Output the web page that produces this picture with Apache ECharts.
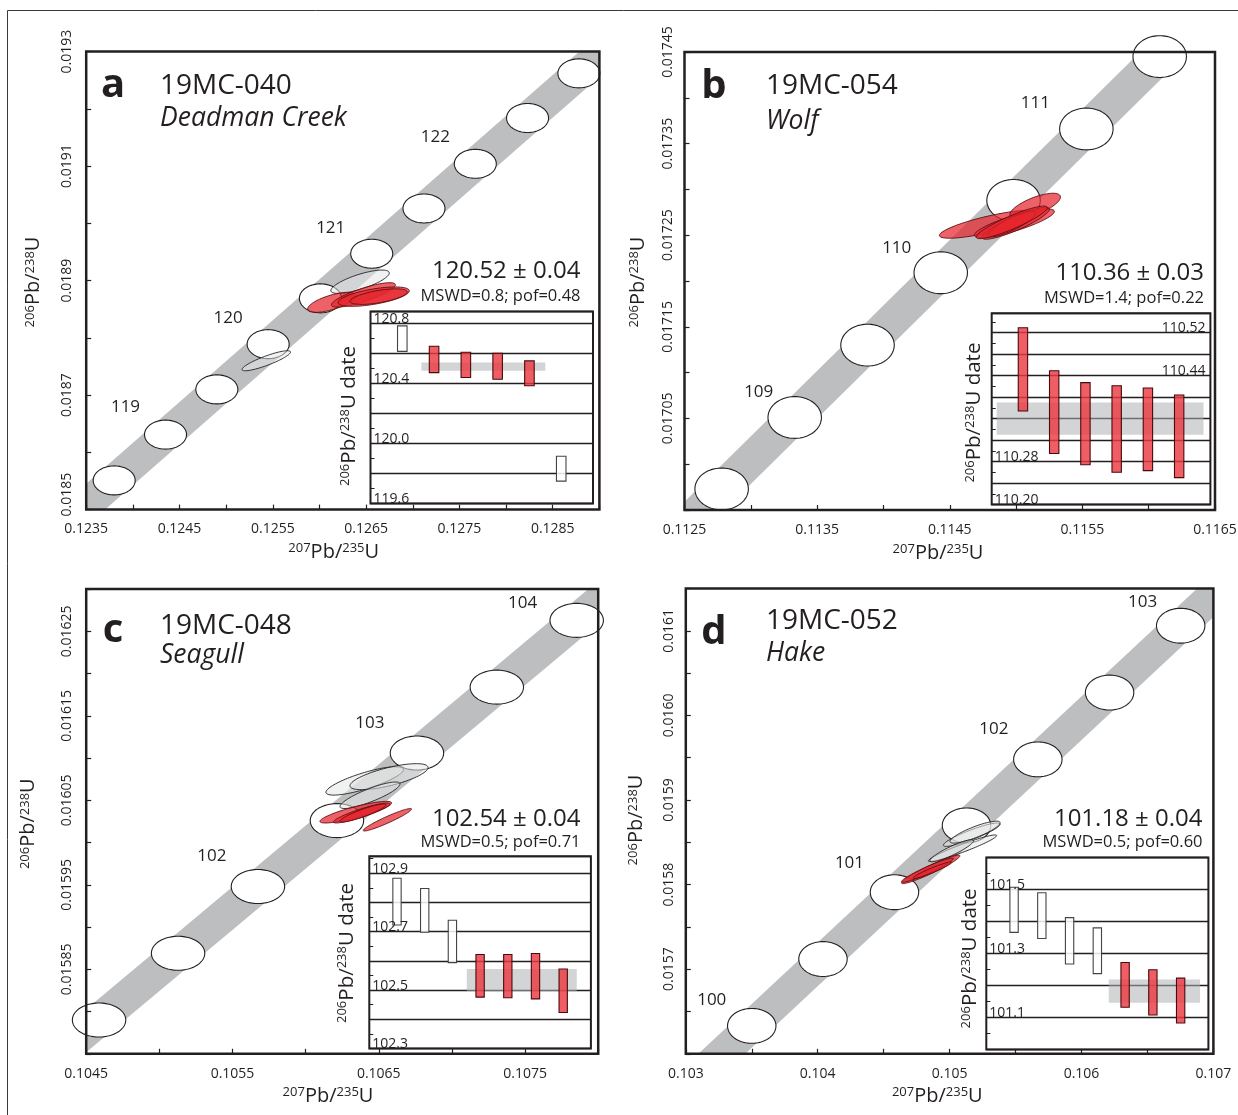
<!DOCTYPE html>
<html>
<head>
<meta charset="utf-8">
<title>U-Pb concordia diagrams</title>
<script src="https://cdn.jsdelivr.net/npm/echarts@6.0.0/dist/echarts.min.js"></script>
<style>
html,body{margin:0;padding:0;background:#fff;}
#chart{width:1238px;height:1115px;}
</style>
</head>
<body>
<div id="chart"></div>
<script>
// ===================== DATA =====================
// ---- Panel a : 19MC-040 Deadman Creek ----
const agesA = [118.5, 119, 119.5, 120, 120.5, 121, 121.5, 122, 122.5, 123];
const concXA = [0.12380, 0.12435, 0.12490, 0.12545, 0.12601, 0.12656, 0.12712, 0.12767, 0.12823, 0.12878];
const concYA = [0.018551, 0.018631, 0.018710, 0.018789, 0.018869, 0.018947, 0.019026, 0.019104, 0.019184, 0.019262];
const markerErrA = [0.000225, 0.0000253];
const labelledAgesA = [119, 120, 121, 122];
// [x, y, sx, sy, rho]
const whiteEllA = [
  [0.126435, 0.018898, 0.000313, 0.0000204, 0.75],
  [0.125430, 0.018760, 0.000260, 0.0000175, 0.87]
];
const redEllA = [
  [0.126132, 0.018862, 0.000259, 0.0000175, 0.66],
  [0.126471, 0.018875, 0.000343, 0.0000213, 0.82],
  [0.126581, 0.018872, 0.000382, 0.0000169, 0.60],
  [0.126634, 0.018872, 0.000307, 0.0000136, 0.60]
];
const datesLoA = [120.615, 120.473, 120.440, 120.429, 120.385, 119.749];
const datesHiA = [120.785, 120.649, 120.609, 120.602, 120.551, 119.915];
const usedA = [0, 1, 1, 1, 1, 0];
const meanBandA = [120.485, 120.540];
const meanSpanA = [1.6, 5.5];
const insetTicksA = [120.8, 120.4, 120.0, 119.6];

// ---- Panel b : 19MC-054 Wolf ----
const agesB = [108.5, 109, 109.5, 110, 110.5, 111, 111.5];
const concXB = [0.11278, 0.113331, 0.113880, 0.114432, 0.114981, 0.115530, 0.116083];
const concYB = [0.016973, 0.017051, 0.017130, 0.017209, 0.017288, 0.017366, 0.017445];
const markerErrB = [0.0002015, 0.0000228];
const labelledAgesB = [109, 110, 111];
const whiteEllB = [];
const redEllB = [
  [0.114798, 0.017262, 0.000376, 0.0000153, 0.80],
  [0.115144, 0.017282, 0.000191, 0.0000138, 0.70],
  [0.114987, 0.017263, 0.000302, 0.0000156, 0.83],
  [0.114997, 0.017263, 0.000254, 0.0000174, 0.88],
  [0.114967, 0.017262, 0.000179, 0.0000138, 0.85],
  [0.114968, 0.017264, 0.000268, 0.0000178, 0.90]
];
const datesLoB = [110.374, 110.295, 110.274, 110.260, 110.263, 110.250];
const datesHiB = [110.529, 110.449, 110.427, 110.421, 110.417, 110.404];
const usedB = [1, 1, 1, 1, 1, 1];
const meanBandB = [110.33, 110.39];
const meanSpanB = [0.16, 6.78];
const insetTicksB = [110.52, 110.44, 110.28, 110.20];

// ---- Panel c : 19MC-048 Seagull ----
const agesC = [101, 101.5, 102, 102.5, 103, 103.5, 104];
const concXC = [0.104588, 0.105128, 0.105674, 0.106214, 0.106761, 0.107307, 0.107853];
const concYC = [0.015790, 0.015869, 0.015948, 0.016026, 0.016106, 0.016184, 0.016263];
const markerErrC = [0.0001825, 0.0000201];
const labelledAgesC = [102, 103, 104];
const whiteEllC = [
  [0.106404, 0.016073, 0.000265, 0.0000168, 0.80],
  [0.106570, 0.016078, 0.000267, 0.0000154, 0.70],
  [0.106440, 0.016056, 0.000205, 0.0000157, 0.85]
];
const redEllC = [
  [0.106343, 0.016036, 0.000245, 0.0000128, 0.85],
  [0.106383, 0.016035, 0.000193, 0.0000118, 0.90],
  [0.106392, 0.016035, 0.000157, 0.0000107, 0.90],
  [0.106559, 0.016027, 0.000165, 0.0000133, 0.95]
];
const datesLoC = [102.723, 102.698, 102.594, 102.476, 102.474, 102.470, 102.423];
const datesHiC = [102.883, 102.848, 102.739, 102.622, 102.622, 102.625, 102.572];
const usedC = [0, 0, 0, 1, 1, 1, 1];
const meanBandC = [102.497, 102.572];
const meanSpanC = [3.52, 7.49];
const insetTicksC = [102.9, 102.7, 102.5, 102.3];

// ---- Panel d : 19MC-052 Hake ----
const agesD = [100, 100.5, 101, 101.5, 102, 102.5, 103];
const concXD = [0.103500, 0.104040, 0.104582, 0.105128, 0.105669, 0.106213, 0.106752];
const concYD = [0.015633, 0.015712, 0.015791, 0.015870, 0.015948, 0.016027, 0.016106];
const markerErrD = [0.0001835, 0.0000206];
const labelledAgesD = [100, 101, 102, 103];
const whiteEllD = [
  [0.105168, 0.015859, 0.000215, 0.0000138, 0.90],
  [0.105193, 0.015862, 0.000190, 0.0000130, 0.85],
  [0.105098, 0.015843, 0.000259, 0.0000157, 0.95],
  [0.105016, 0.015840, 0.000165, 0.0000130, 0.90]
];
const redEllD = [
  [0.104857, 0.015818, 0.000221, 0.0000168, 0.95],
  [0.104832, 0.015817, 0.000196, 0.0000142, 0.95],
  [0.104870, 0.015817, 0.000146, 0.0000098, 0.95]
];
const datesLoD = [101.366, 101.347, 101.267, 101.237, 101.132, 101.108, 101.083];
const datesHiD = [101.507, 101.490, 101.412, 101.380, 101.272, 101.249, 101.223];
const usedD = [0, 0, 0, 0, 1, 1, 1];
const meanBandD = [101.146, 101.219];
const meanSpanD = [4.41, 7.70];
const insetTicksD = [101.5, 101.3, 101.1];

// ===================== LAYOUT / STYLE =====================
const FONT = "'Open Sans', 'Noto Sans', sans-serif";
const TXT = '#231f20';

const panels = [
  { letter: 'a', sample: '19MC-040', name: 'Deadman Creek', stat: '120.52 \u00b1 0.04', mswd: 'MSWD=0.8; pof=0.48',
    grid: [86.2, 51.6, 513.2, 458], xr: [0.1235, 0.1290], yr: [0.0185, 0.0193], xi: 0.0005, yi: 0.0001,
    xFmt: v => Math.round(v * 1e4) % 10 === 5 ? v.toFixed(4) : '',
    yFmt: v => { const k = Math.round(v * 1e4); if (k === 185) return '{lo|' + v.toFixed(4) + '}'; return k % 2 === 1 ? v.toFixed(4) : ''; },
    xMargin: 12, yMargin: 12, bandW: 32,
    ages: agesA, cx: concXA, cy: concYA, merr: markerErrA, labelled: labelledAgesA,
    labelOff: [[-40, -27], [-40, -26], [-41, -26], [-40, -27]],
    white: whiteEllA, red: redEllA,
    lettPos: [113, 86], samplePos: [160, 86.5], namePos: [160, 118], statPos: [580.5, 271.5], mswdPos: [580.5, 296],
    xTitle: [333.7, 554], yTitle: [35.6, 282], iTitle: [351.3, 416],
    inset: { box: [370.5, 311.6, 222.5, 191.9], yr: [119.6, 120.88], xr: [0, 7], step: 0.2, dec: 1,
      lo: datesLoA, hi: datesHiA, used: usedA, band: meanBandA, span: meanSpanA, ticks: insetTicksA, right: [] } },
  { letter: 'b', sample: '19MC-054', name: 'Wolf', stat: '110.36 \u00b1 0.03', mswd: 'MSWD=1.4; pof=0.22',
    grid: [684.5, 52, 530.5, 458], xr: [0.1125, 0.1165], yr: [0.01695, 0.01745], xi: 0.0005, yi: 0.00005,
    xFmt: v => Math.round(v * 1e4) % 10 === 5 ? v.toFixed(4) : '',
    yFmt: v => { const k = Math.round(v * 1e5); return (k % 10 === 5 && k !== 1695) ? v.toFixed(5) : ''; },
    xMargin: 13, yMargin: 9, bandW: 34,
    ages: agesB, cx: concXB, cy: concYB, merr: markerErrB, labelled: labelledAgesB,
    labelOff: [[-36, -25], [-44, -25], [-51, -26]],
    white: whiteEllB, red: redEllB,
    lettPos: [714, 87], samplePos: [766, 86.5], namePos: [766, 121], statPos: [1204, 273.3], mswdPos: [1204, 298.5],
    xTitle: [938, 555], yTitle: [639.8, 282], iTitle: [976, 412.6],
    inset: { box: [991.7, 313.3, 218.7, 191.2], yr: [110.2, 110.556], xr: [0, 7], step: 0.04, dec: 2,
      lo: datesLoB, hi: datesHiB, used: usedB, band: meanBandB, span: meanSpanB, ticks: insetTicksB, right: [110.52, 110.44] } },
  { letter: 'c', sample: '19MC-048', name: 'Seagull', stat: '102.54 \u00b1 0.04', mswd: 'MSWD=0.5; pof=0.71',
    grid: [86.2, 589.1, 512, 464.7], xr: [0.1045, 0.1080], yr: [0.01575, 0.0163], xi: 0.0005, yi: 0.00005,
    xFmt: v => Math.round(v * 1e4) % 10 === 5 ? v.toFixed(4) : '',
    yFmt: v => { const k = Math.round(v * 1e5); return (k % 10 === 5 && k !== 1575) ? v.toFixed(5) : ''; },
    xMargin: 13, yMargin: 12, bandW: 33,
    ages: agesC, cx: concXC, cy: concYC, merr: markerErrC, labelled: labelledAgesC,
    labelOff: [[-46, -30], [-47, -30], [-54, -17]],
    white: whiteEllC, red: redEllC,
    lettPos: [113, 631], samplePos: [160, 626.2], namePos: [160, 655], statPos: [580.5, 818.8], mswdPos: [580.5, 842.5],
    xTitle: [328, 1098], yTitle: [30.6, 823.7], iTitle: [348.5, 953],
    inset: { box: [369.3, 856.3, 221.6, 192.2], yr: [102.3, 102.958], xr: [0, 8], step: 0.1, dec: 1,
      lo: datesLoC, hi: datesHiC, used: usedC, band: meanBandC, span: meanSpanC, ticks: insetTicksC, right: [] } },
  { letter: 'd', sample: '19MC-052', name: 'Hake', stat: '101.18 \u00b1 0.04', mswd: 'MSWD=0.5; pof=0.60',
    grid: [685.8, 588.5, 527.6, 465.3], xr: [0.103, 0.107], yr: [0.0156, 0.01615], xi: 0.0005, yi: 0.00005,
    xFmt: v => Math.round(v * 1e4) % 10 === 0 ? v.toFixed(3) : '',
    yFmt: v => { const k = Math.round(v * 1e5); return (k % 10 === 0 && k !== 1560) ? v.toFixed(4) : ''; },
    xMargin: 13, yMargin: 10, bandW: 32,
    ages: agesD, cx: concXD, cy: concYD, merr: markerErrD, labelled: labelledAgesD,
    labelOff: [[-40, -26], [-45, -29], [-44, -30], [-38, -24]],
    white: whiteEllD, red: redEllD,
    lettPos: [714, 632.5], samplePos: [766, 621], namePos: [766, 653.3], statPos: [1202.5, 818.8], mswdPos: [1202.5, 842.5],
    xTitle: [937.3, 1098], yTitle: [638.7, 820], iTitle: [972, 958.4],
    inset: { box: [986.3, 857.5, 222.1, 192], yr: [101.0, 101.6], xr: [0, 8], step: 0.1, dec: 1,
      lo: datesLoD, hi: datesHiD, used: usedD, band: meanBandD, span: meanSpanD, ticks: insetTicksD, right: [] } }
];

// ===================== HELPERS =====================
function clipPoly(poly, x0, y0, x1, y1) {
  const clipEdge = (pts, inside, inter) => {
    const out = [];
    for (let i = 0; i < pts.length; i++) {
      const cur = pts[i], prev = pts[(i + pts.length - 1) % pts.length];
      const ci = inside(cur), pi = inside(prev);
      if (ci) { if (!pi) out.push(inter(prev, cur)); out.push(cur); }
      else if (pi) out.push(inter(prev, cur));
    }
    return out;
  };
  const ix = X => (a, b) => { const t = (X - a[0]) / (b[0] - a[0]); return [X, a[1] + t * (b[1] - a[1])]; };
  const iy = Y => (a, b) => { const t = (Y - a[1]) / (b[1] - a[1]); return [a[0] + t * (b[0] - a[0]), Y]; };
  let p = poly;
  p = clipEdge(p, q => q[0] >= x0, ix(x0));
  p = clipEdge(p, q => q[0] <= x1, ix(x1));
  p = clipEdge(p, q => q[1] >= y0, iy(y0));
  p = clipEdge(p, q => q[1] <= y1, iy(y1));
  return p;
}

function ellipseSeries(gi, data, style, z) {
  return {
    type: 'custom', xAxisIndex: gi, yAxisIndex: gi, z: z, silent: true, animation: false,
    data: data,
    renderItem: function (params, api) {
      const cx = api.value(0), cy = api.value(1), sx = api.value(2), sy = api.value(3), r = api.value(4);
      const k = Math.sqrt(Math.max(0, 1 - r * r));
      const pts = [];
      for (let i = 0; i < 96; i++) {
        const t = i / 96 * Math.PI * 2, c = Math.cos(t), s = Math.sin(t);
        pts.push(api.coord([cx + sx * c, cy + sy * (r * c + k * s)]));
      }
      return { type: 'polygon', shape: { points: pts }, style: style };
    }
  };
}

function supRich(n, s) {
  return {
    s: { fontSize: s, fontFamily: FONT, fill: TXT, color: TXT, lineHeight: s, verticalAlign: 'top' },
    n: { fontSize: n, fontFamily: FONT, fill: TXT, color: TXT, lineHeight: n + 4, verticalAlign: 'top' }
  };
}

// ===================== BUILD =====================
const grid = [], xAxis = [], yAxis = [], series = [], elements = [];

panels.forEach((P, i) => {
  grid.push({ left: P.grid[0], top: P.grid[1], width: P.grid[2], height: P.grid[3], show: true, z: 5,
    backgroundColor: 'transparent', borderColor: TXT, borderWidth: 2.5, containLabel: false, outerBoundsMode: 'none' });
  xAxis.push({ gridIndex: i, type: 'value', min: P.xr[0], max: P.xr[1], interval: P.xi, z: 6,
    axisLine: { show: false }, splitLine: { show: false },
    axisTick: { show: true, inside: true, length: 5, lineStyle: { color: TXT, width: 1.2 } },
    axisLabel: { show: true, margin: P.xMargin, fontSize: 14, fontFamily: FONT, color: TXT, formatter: P.xFmt,
      showMinLabel: true, showMaxLabel: true, hideOverlap: false } });
  yAxis.push({ gridIndex: i, type: 'value', min: P.yr[0], max: P.yr[1], interval: P.yi, z: 6,
    axisLine: { show: false }, splitLine: { show: false },
    axisTick: { show: true, inside: true, length: 5, lineStyle: { color: TXT, width: 1.2 } },
    axisLabel: { show: true, rotate: 90, margin: P.yMargin, fontSize: 14, fontFamily: FONT, color: TXT, formatter: P.yFmt,
      showMinLabel: true, showMaxLabel: true, hideOverlap: false,
      rich: { lo: { fontSize: 14, fontFamily: FONT, color: TXT, padding: [0, 0, 0, 30] } } } });
});

panels.forEach((P, i) => {
  const I = P.inset, gi = 4 + i;
  grid.push({ left: I.box[0], top: I.box[1], width: I.box[2], height: I.box[3], show: true, z: 10,
    backgroundColor: '#ffffff', borderColor: TXT, borderWidth: 2, containLabel: false, outerBoundsMode: 'none' });
  xAxis.push({ gridIndex: gi, type: 'value', min: I.xr[0], max: I.xr[1], show: false });
  yAxis.push({ gridIndex: gi, type: 'value', min: I.yr[0], max: I.yr[1], interval: I.step, z: 12,
    axisLine: { show: false }, axisLabel: { show: false },
    axisTick: { show: true, inside: true, length: 4, lineStyle: { color: TXT, width: 1 } },
    minorTick: { show: true, splitNumber: 2, length: 4, lineStyle: { color: TXT, width: 1 } },
    splitLine: { show: true, lineStyle: { color: TXT, width: 1.4 } } });
});

panels.forEach((P, i) => {
  const n = P.cx.length;
  const bw = P.bandW;
  // concordia uncertainty band
  series.push({
    type: 'custom', xAxisIndex: i, yAxisIndex: i, z: 1, silent: true, animation: false,
    data: [[P.cx[0], P.cy[0], P.cx[n - 1], P.cy[n - 1]]],
    renderItem: function (params, api) {
      const a = api.coord([api.value(0), api.value(1)]), b = api.coord([api.value(2), api.value(3)]);
      const dx = b[0] - a[0], dy = b[1] - a[1], L = Math.hypot(dx, dy);
      const ux = dx / L, uy = dy / L, nx = -uy, ny = ux, ext = 700, hw = bw / 2;
      const A = [a[0] - ux * ext, a[1] - uy * ext], B = [b[0] + ux * ext, b[1] + uy * ext];
      const poly = [[A[0] + nx * hw, A[1] + ny * hw], [B[0] + nx * hw, B[1] + ny * hw],
                    [B[0] - nx * hw, B[1] - ny * hw], [A[0] - nx * hw, A[1] - ny * hw]];
      const cs = params.coordSys;
      const pts = clipPoly(poly, cs.x, cs.y, cs.x + cs.width, cs.y + cs.height);
      return { type: 'polygon', shape: { points: pts }, style: { fill: '#bcbec0' } };
    }
  });
  // age marker ellipses
  series.push(ellipseSeries(i, P.cx.map((x, k) => [x, P.cy[k], P.merr[0], P.merr[1], 0]),
    { fill: '#ffffff', stroke: TXT, lineWidth: 1.1 }, 2));
  // rejected (white) analyses
  if (P.white.length) series.push(ellipseSeries(i, P.white, { fill: 'rgba(228,229,230,0.55)', stroke: TXT, lineWidth: 0.9 }, 3));
  // used (red) analyses
  series.push(ellipseSeries(i, P.red, { fill: 'rgba(230,38,46,0.72)', stroke: '#5c0d10', lineWidth: 0.9 }, 4));
  // age labels
  series.push({
    type: 'custom', xAxisIndex: i, yAxisIndex: i, z: 4, silent: true, animation: false,
    data: P.labelled.map((age, j) => { const k = P.ages.indexOf(age); return [P.cx[k], P.cy[k], age, P.labelOff[j][0], P.labelOff[j][1]]; }),
    renderItem: function (params, api) {
      const p = api.coord([api.value(0), api.value(1)]);
      return { type: 'text', x: p[0] + api.value(3), y: p[1] + api.value(4),
        style: { text: String(api.value(2)), fontSize: 17, fontFamily: FONT, fill: TXT, align: 'center', verticalAlign: 'middle' } };
    }
  });

  // ---- inset ----
  const I = P.inset, gi = 4 + i;
  series.push({
    type: 'custom', xAxisIndex: gi, yAxisIndex: gi, z: 13, silent: true, animation: false,
    data: [[I.span[0], I.span[1], I.band[0], I.band[1]]],
    renderItem: function (params, api) {
      const p1 = api.coord([api.value(0), api.value(3)]), p2 = api.coord([api.value(1), api.value(2)]);
      return { type: 'rect', shape: { x: p1[0], y: p1[1], width: p2[0] - p1[0], height: p2[1] - p1[1] },
        style: { fill: 'rgba(175,176,178,0.55)' } };
    }
  });
  series.push({
    type: 'custom', xAxisIndex: gi, yAxisIndex: gi, z: 14, silent: true, animation: false,
    data: I.lo.map((lo, k) => [k + 1, lo, I.hi[k], I.used[k]]),
    renderItem: function (params, api) {
      const x = api.value(0), lo = api.value(1), hi = api.value(2), used = api.value(3);
      const p1 = api.coord([x, hi]), p2 = api.coord([x, lo]);
      const w = api.size([0.3, 0])[0];
      return { type: 'rect', shape: { x: p1[0] - w / 2, y: p1[1], width: w, height: p2[1] - p1[1] },
        style: used ? { fill: 'rgba(236,58,66,0.82)', stroke: '#4a0a0d', lineWidth: 1.1 }
                    : { fill: 'rgba(255,255,255,0.85)', stroke: '#444', lineWidth: 1.1 } };
    }
  });
  series.push({
    type: 'custom', xAxisIndex: gi, yAxisIndex: gi, z: 15, silent: true, animation: false,
    data: I.ticks.map(v => { const r = I.right.indexOf(v) >= 0 ? 1 : 0; return [r ? I.xr[1] : I.xr[0], v, r]; }),
    renderItem: function (params, api) {
      const r = api.value(2);
      const p = api.coord([api.value(0), api.value(1)]);
      return { type: 'text', x: p[0] + (r ? -5 : 3), y: p[1] + 2.5,
        style: { text: api.value(1).toFixed(I.dec), fontSize: 14, fontFamily: FONT, fill: TXT,
          align: r ? 'right' : 'left', verticalAlign: 'bottom' } };
    }
  });

  // ---- texts ----
  elements.push({ type: 'text', x: P.lettPos[0], y: P.lettPos[1], z: 50,
    style: { text: P.letter, fontSize: 40, fontWeight: 'bold', fontFamily: FONT, fill: TXT, align: 'center', verticalAlign: 'middle' } });
  elements.push({ type: 'text', x: P.samplePos[0], y: P.samplePos[1], z: 50,
    style: { text: P.sample, fontSize: 28, fontFamily: FONT, fill: TXT, align: 'left', verticalAlign: 'middle' } });
  elements.push({ type: 'text', x: P.namePos[0], y: P.namePos[1], z: 50,
    style: { text: P.name, fontSize: 26.5, fontStyle: 'italic', fontFamily: FONT, fill: TXT, align: 'left', verticalAlign: 'middle' } });
  elements.push({ type: 'text', x: P.statPos[0], y: P.statPos[1], z: 50,
    style: { text: P.stat, fontSize: 24, fontFamily: FONT, fill: TXT, align: 'right', verticalAlign: 'middle' } });
  elements.push({ type: 'text', x: P.mswdPos[0], y: P.mswdPos[1], z: 50,
    style: { text: P.mswd, fontSize: 16.5, fontFamily: FONT, fill: TXT, align: 'right', verticalAlign: 'middle' } });
  elements.push({ type: 'text', x: P.xTitle[0], y: P.xTitle[1], z: 50,
    style: { text: '{s|207}{n|Pb/}{s|235}{n|U}', rich: supRich(20, 13), align: 'center', verticalAlign: 'middle' } });
  elements.push({ type: 'text', x: P.yTitle[0], y: P.yTitle[1], rotation: Math.PI / 2, z: 50,
    style: { text: '{s|206}{n|Pb/}{s|238}{n|U}', rich: supRich(20, 13), align: 'center', verticalAlign: 'middle' } });
  elements.push({ type: 'text', x: P.iTitle[0], y: P.iTitle[1], rotation: Math.PI / 2, z: 50,
    style: { text: '{s|206}{n|Pb/}{s|238}{n|U date}', rich: supRich(20.5, 13), align: 'center', verticalAlign: 'middle' } });
});

// outer frame
elements.push({ type: 'rect', z: 0, silent: true, shape: { x: 7.5, y: 10.5, width: 1260, height: 1140 },
  style: { fill: 'none', stroke: '#3a3a3a', lineWidth: 1 } });

const chart = echarts.init(document.getElementById('chart'), null, { renderer: 'canvas', width: 1238, height: 1115 });
chart.setOption({
  animation: false,
  backgroundColor: '#ffffff',
  grid: grid, xAxis: xAxis, yAxis: yAxis, series: series,
  graphic: { elements: elements }
});
</script>
</body>
</html>
